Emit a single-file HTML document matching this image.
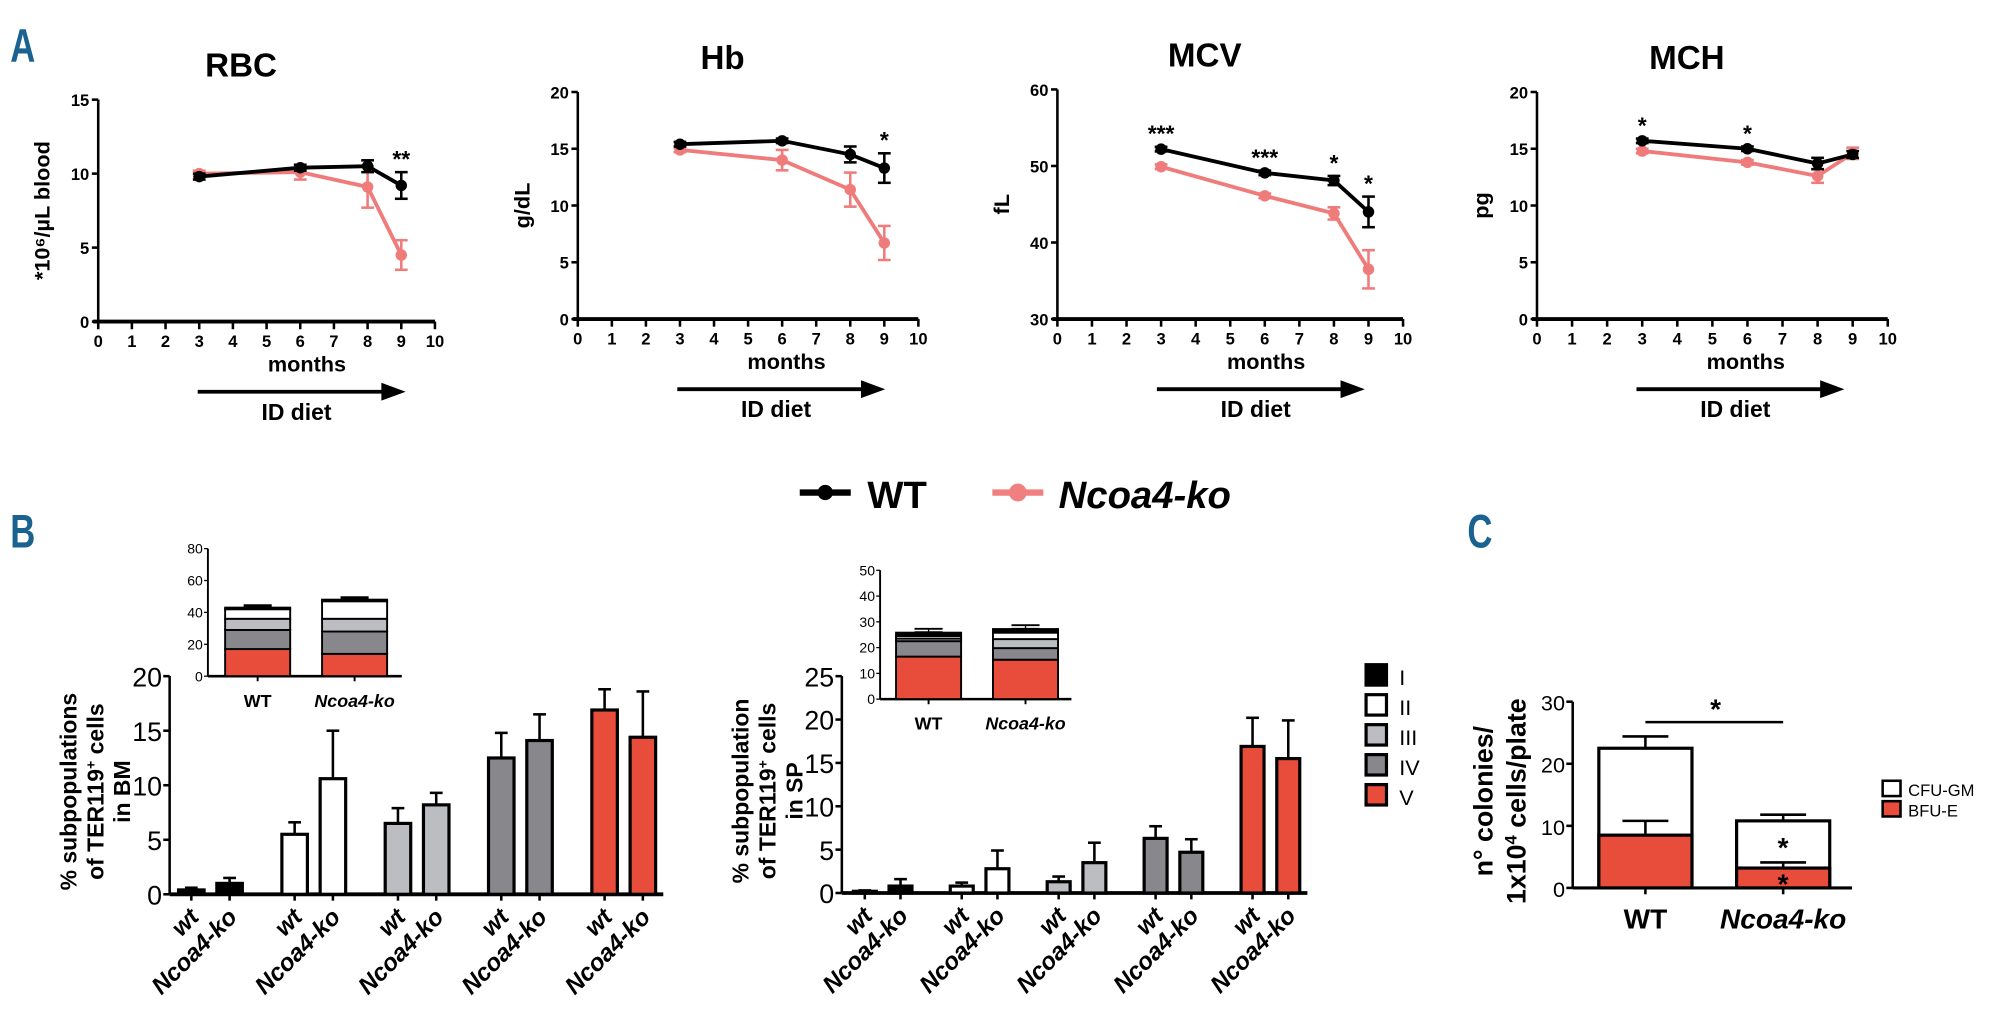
<!DOCTYPE html>
<html><head><meta charset="utf-8">
<style>
html,body{margin:0;padding:0;background:#fff;}
svg{display:block;font-family:"Liberation Sans",sans-serif;}
.pl{font-family:"Liberation Sans",sans-serif;font-weight:bold;fill:#1a6391;font-size:34px;}
</style></head>
<body>
<svg id="fig" width="2000" height="1022" viewBox="0 0 1568 801">
<text class="pl" x="8" y="48" transform="scale(0.8,1.1) translate(2,-4)">A</text>
<text class="pl" x="10" y="390" transform="scale(0.8,1.1)">B</text>
<text class="pl" x="1438" y="390" transform="scale(0.8,1.1)">C</text>
<g id="legend">
<line x1="627" y1="386" x2="667" y2="386" stroke="#000" stroke-width="5"/>
<circle cx="647" cy="386" r="6" fill="#000"/>
<text x="680" y="398" font-size="30" font-weight="bold">WT</text>
<line x1="778" y1="386" x2="818" y2="386" stroke="#f08080" stroke-width="5"/>
<circle cx="798" cy="386" r="7" fill="#f08080"/>
<text x="830" y="398" font-size="30" font-weight="bold" font-style="italic">Ncoa4-ko</text>
</g>
</svg>
<script>
// ---- Panel A data ----
const months = [3, 6, 8, 9];
const xTicksA = [0,1,2,3,4,5,6,7,8,9,10];
const rbcWT = [9.8, 10.4, 10.5, 9.2];
const rbcWTerr = [0.2, 0.2, 0.4, 0.9];
const rbcKO = [10.0, 10.1, 9.1, 4.5];
const rbcKOerr = [0.2, 0.5, 1.4, 1.0];
const hbWT = [15.4, 15.7, 14.5, 13.3];
const hbWTerr = [0.2, 0.2, 0.7, 1.3];
const hbKO = [14.9, 14.0, 11.4, 6.7];
const hbKOerr = [0.2, 0.9, 1.5, 1.5];
const mcvWT = [52.2, 49.1, 48.1, 44.0];
const mcvWTerr = [0.3, 0.3, 0.6, 2.0];
const mcvKO = [49.9, 46.1, 43.8, 36.5];
const mcvKOerr = [0.3, 0.3, 0.8, 2.5];
const mchWT = [15.7, 15.0, 13.7, 14.5];
const mchWTerr = [0.2, 0.2, 0.5, 0.3];
const mchKO = [14.8, 13.8, 12.6, 14.6];
const mchKOerr = [0.2, 0.2, 0.6, 0.5];
const rbcStars = ["", "", "", "**"];
const hbStars = ["", "", "", "*"];
const mcvStars = ["***", "***", "*", "*"];
const mchStars = ["*", "*", "", ""];
// ---- Panel B data ----
const stages = ["I","II","III","IV","V"];
const bmWT = [0.4, 5.5, 6.5, 12.5, 16.9];
const bmWTerr = [0.2, 1.1, 1.4, 2.3, 1.9];
const bmKO = [1.0, 10.6, 8.2, 14.1, 14.4];
const bmKOerr = [0.5, 4.4, 1.1, 2.4, 4.2];
const spWT = [0.2, 0.8, 1.3, 6.3, 16.9];
const spWTerr = [0.1, 0.4, 0.6, 1.4, 3.3];
const spKO = [0.8, 2.8, 3.5, 4.7, 15.5];
const spKOerr = [0.8, 2.1, 2.3, 1.5, 4.4];
// inset stacks, bottom to top: V, IV, III, II, I
const bmInsetWT = [17, 12, 7, 6, 1];
const bmInsetKO = [14, 14, 8, 11, 1];
const spInsetWT = [16.5, 6, 1, 1, 1.3];
const spInsetKO = [15.3, 4.5, 3.5, 2.5, 1.4];
const bmTicks = [0,5,10,15,20];
const spTicks = [0,5,10,15,20,25];
const bmInsetTicks = [0,20,40,60,80];
const spInsetTicks = [0,10,20,30,40,50];
// ---- Panel C data ----
const cGroups = ["WT","Ncoa4-ko"];
const bfuE = [8.5, 3.2];
const bfuEerr = [2.3, 0.9];
const cfuTotal = [22.5, 10.8];
const cfuTotalErr = [1.9, 1.0];
const cTicks = [0,10,20,30];

const NS = "http://www.w3.org/2000/svg";
const svg = document.getElementById("fig");
function mk(tag, attrs, parent, txt){
  const e = document.createElementNS(NS, tag);
  for (const k in attrs) e.setAttribute(k, attrs[k]);
  if (txt !== undefined) e.textContent = txt;
  (parent || svg).appendChild(e);
  return e;
}
const stageColor = ["#000000","#ffffff","#bcbdc1","#87878c","#e84c3a"];

function lineChart(o){
  const g = mk("g", {});
  
  
  const sx = v => o.x0 + (v/10)*(o.x1-o.x0);
  const sy = v => o.yb - (v-o.ymin)/(o.ymax-o.ymin)*(o.yb-o.yt);
  const t = mk("text", {x:(o.x0+o.x1)/2-20, y:o.yt-18, "font-size":26, "font-weight":"bold", "text-anchor":"middle"}, g, o.title);
  
  
  mk("line", {x1:o.x0, y1:o.yt, x2:o.x0, y2:o.yb, stroke:"#000", "stroke-width":2}, g);
  mk("line", {x1:o.x0-4, y1:o.yb, x2:o.x1, y2:o.yb, stroke:"#000", "stroke-width":3}, g);
  o.yticks.forEach(v=>{
    mk("line",{x1:o.x0-5,y1:sy(v),x2:o.x0,y2:sy(v),stroke:"#000","stroke-width":2},g);
    const l = mk("text",{x:o.x0-7,y:sy(v)+5,"font-size":13,"font-weight":"bold","text-anchor":"end"},g,String(v));
    
    
  });
  xTicksA.forEach(v=>{
    mk("line",{x1:sx(v),y1:o.yb,x2:sx(v),y2:o.yb+6,stroke:"#000","stroke-width":2},g);
    const l = mk("text",{x:sx(v),y:o.yb+20,"font-size":13,"font-weight":"bold","text-anchor":"middle"},g,String(v));
    
    
  });
  const yl = mk("text",{x:0,y:0,"font-size":17,"font-weight":"bold","text-anchor":"middle",transform:`translate(${o.x0-38},${(o.yt+o.yb)/2}) rotate(-90)`},g,o.ylabel);
  
  
  const ml = mk("text",{x:o.x0+133,y:o.yb+39,"font-size":17,"font-weight":"bold"},g,"months");
  
  
  const ay = o.yb+55;
  mk("line",{x1:o.x0+78,y1:ay,x2:o.x0+225,y2:ay,stroke:"#000","stroke-width":3},g);
  const ah = mk("polygon",{points:`${o.x0+241},${ay} ${o.x0+222},${ay-7} ${o.x0+222},${ay+7}`,fill:"#000"},g);
  
  
  const dl = mk("text",{x:o.x0+128,y:ay+22,"font-size":18,"font-weight":"bold"},g,"ID diet");
  
  
  [[o.ko,o.koErr,"#ef7b7b"],[o.wt,o.wtErr,"#000"]].forEach(([vals,errs,col])=>{
    const pts = months.map((m,i)=>`${sx(m)},${sy(vals[i])}`).join(" ");
    const pl = mk("polyline",{points:pts,fill:"none",stroke:col,"stroke-width":3},g);
    
    
    months.forEach((m,i)=>{
      const x=sx(m), a=sy(vals[i]-errs[i]), b=sy(vals[i]+errs[i]);
      mk("line",{x1:x,y1:a,x2:x,y2:b,stroke:col,"stroke-width":2},g);
      mk("line",{x1:x-5,y1:a,x2:x+5,y2:a,stroke:col,"stroke-width":2},g);
      mk("line",{x1:x-5,y1:b,x2:x+5,y2:b,stroke:col,"stroke-width":2},g);
      const c = mk("circle",{cx:x,cy:sy(vals[i]),r:4.5,fill:col},g);
      
      
    });
  });
  o.stars.forEach((s,i)=>{
    if(!s) return;
    const top = Math.min(sy(o.wt[i]+o.wtErr[i]), sy(o.wt[i]));
    const st = mk("text",{x:sx(months[i]),y:top-4,"font-size":18,"font-weight":"bold","text-anchor":"middle"},g,s);
    
    
  });
}
lineChart({name:"rbc-chart",title:"RBC",x0:77,x1:341,yt:78,yb:252,ymin:0,ymax:15,yticks:[0,5,10,15],ylabel:"*10⁶/µL blood",wt:rbcWT,wtErr:rbcWTerr,ko:rbcKO,koErr:rbcKOerr,stars:rbcStars});
lineChart({name:"hb-chart",title:"Hb",x0:453,x1:720,yt:72,yb:250,ymin:0,ymax:20,yticks:[0,5,10,15,20],ylabel:"g/dL",wt:hbWT,wtErr:hbWTerr,ko:hbKO,koErr:hbKOerr,stars:hbStars});
lineChart({name:"mcv-chart",title:"MCV",x0:829,x1:1100,yt:70,yb:250,ymin:30,ymax:60,yticks:[30,40,50,60],ylabel:"fL",wt:mcvWT,wtErr:mcvWTerr,ko:mcvKO,koErr:mcvKOerr,stars:mcvStars});
lineChart({name:"mch-chart",title:"MCH",x0:1205,x1:1480,yt:72,yb:250,ymin:0,ymax:20,yticks:[0,5,10,15,20],ylabel:"pg",wt:mchWT,wtErr:mchWTerr,ko:mchKO,koErr:mchKOerr,stars:mchStars});

function errBar(g,x,yv,ye,half){
  mk("line",{x1:x,y1:yv,x2:x,y2:ye,stroke:"#000","stroke-width":2},g);
  mk("line",{x1:x-half,y1:ye,x2:x+half,y2:ye,stroke:"#000","stroke-width":2},g);
}
function barChart(o){
  const g = mk("g",{});
  
  
  const sy = v => o.yb - v/o.ymax*(o.yb-o.yt);
  mk("line",{x1:o.x0,y1:o.yt,x2:o.x0,y2:o.yb,stroke:"#000","stroke-width":2},g);
  mk("line",{x1:o.x0,y1:o.yb,x2:o.x1,y2:o.yb,stroke:"#000","stroke-width":3},g);
  o.ticks.forEach(v=>{
    mk("line",{x1:o.x0-5,y1:sy(v),x2:o.x0,y2:sy(v),stroke:"#000","stroke-width":2},g);
    const l = mk("text",{x:o.x0-6,y:sy(v)+8,"font-size":21,"text-anchor":"end"},g,String(v));
    
    
  });
  const yl = mk("text",{x:0,y:0,"font-size":18,"font-weight":"bold","text-anchor":"middle",transform:`translate(${o.x0-73},${(o.yt+o.yb)/2+5}) rotate(-90)`},g);
  o.ylabel.forEach((ln,i)=>{ const ts=mk("tspan",{x:0,dy:i?21:0},yl); ts.innerHTML=ln; });
  
  
  stages.forEach((s,i)=>{
    [[o.wt,o.wtE,"wt",0],[o.ko,o.koE,"Ncoa4-ko",1]].forEach(([vals,errs,lab,k])=>{
      const cx = o.x0 + o.off + i*o.step + k*o.gap;
      errBar(g,cx,sy(vals[i]),sy(vals[i]+errs[i]),5);
      const r = mk("rect",{x:cx-o.bw/2,y:sy(vals[i]),width:o.bw,height:o.yb-sy(vals[i]),fill:stageColor[i],stroke:"#000","stroke-width":2.5},g);
      
      
      mk("line",{x1:cx,y1:o.yb,x2:cx,y2:o.yb+5,stroke:"#000","stroke-width":2},g);
      const tl = mk("text",{x:0,y:0,"font-size":19,"font-weight":"bold","font-style":"italic","text-anchor":"end",transform:`translate(${cx+7},${o.yb+19}) rotate(-45)`},g,lab);
      
      
    });
  });
}
barChart({name:"bm-bar-chart",x0:133,x1:520,yt:530,yb:701,ymax:20,ticks:bmTicks,wt:bmWT,wtE:bmWTerr,ko:bmKO,koE:bmKOerr,bw:20,off:17,step:81,gap:30,ylabel:["% subpopulations","of TER119<tspan baseline-shift='super' font-size='11'>+</tspan> cells","in BM"]});
barChart({name:"sp-bar-chart",x0:660,x1:1025,yt:530,yb:700,ymax:25,ticks:spTicks,wt:spWT,wtE:spWTerr,ko:spKO,koE:spKOerr,bw:18,off:18,step:76,gap:28,ylabel:["% subpopulation","of TER119<tspan baseline-shift='super' font-size='11'>+</tspan> cells","in SP"]});

function inset(o){
  const g = mk("g",{});
  
  
  const sy = v => o.yb - v/o.ymax*(o.yb-o.yt);
  mk("line",{x1:o.x0,y1:o.yt,x2:o.x0,y2:o.yb,stroke:"#000","stroke-width":1.5},g);
  mk("line",{x1:o.x0,y1:o.yb,x2:o.x1,y2:o.yb,stroke:"#000","stroke-width":2},g);
  o.ticks.forEach(v=>{
    mk("line",{x1:o.x0-3,y1:sy(v),x2:o.x0,y2:sy(v),stroke:"#000","stroke-width":1},g);
    const l = mk("text",{x:o.x0-4,y:sy(v)+4,"font-size":11,"text-anchor":"end"},g,String(v));
    
    
  });
  [[o.wt,"WT",o.c1,""],[o.ko,"Ncoa4-ko",o.c2,"italic"]].forEach(([vals,lab,cx,fs])=>{
    let cum=0;
    vals.forEach((v,i)=>{
      const top = cum+v;
      const si = 4-i;
      const r = mk("rect",{x:cx-o.bw/2,y:sy(top),width:o.bw,height:sy(cum)-sy(top),fill:stageColor[si],stroke:"#000","stroke-width":1.5},g);
      
      
      mk("line",{x1:cx,y1:sy(top),x2:cx,y2:sy(top+1.5),stroke:"#000","stroke-width":1},g);
      mk("line",{x1:cx-11,y1:sy(top+1.5),x2:cx+11,y2:sy(top+1.5),stroke:"#000","stroke-width":1.5},g);
      cum=top;
    });
    mk("line",{x1:cx,y1:o.yb,x2:cx,y2:o.yb+4,stroke:"#000","stroke-width":1.5},g);
    const t = mk("text",{x:cx,y:o.yb+24,"font-size":14,"font-weight":"bold","font-style":fs,"text-anchor":"middle"},g,lab);
    
    
  });
}
inset({name:"bm-inset-chart",x0:163,x1:315,yt:430,yb:530,ymax:80,ticks:bmInsetTicks,wt:bmInsetWT,ko:bmInsetKO,c1:202,c2:278,bw:51});
inset({name:"sp-inset-chart",x0:690,x1:840,yt:447,yb:548,ymax:50,ticks:spInsetTicks,wt:spInsetWT,ko:spInsetKO,c1:728,c2:804,bw:51});

stages.forEach((s,i)=>{
  const y = 521 + i*23.5;
  const r = mk("rect",{x:1071,y:y,width:16,height:16,fill:stageColor[i],stroke:"#000","stroke-width":2.5});
  
  
  const t = mk("text",{x:1097,y:y+16,"font-size":17},undefined,s);
  
  
});

(function(){
  const g = mk("g",{});
  
  
  const x0=1233, x1=1452, yt=550, yb=696, ymax=30;
  const sy = v => yb - v/ymax*(yb-yt);
  mk("line",{x1:x0,y1:yt,x2:x0,y2:yb,stroke:"#000","stroke-width":2},g);
  mk("line",{x1:x0,y1:yb,x2:x1,y2:yb,stroke:"#000","stroke-width":2.5},g);
  cTicks.forEach(v=>{
    mk("line",{x1:x0-5,y1:sy(v),x2:x0,y2:sy(v),stroke:"#000","stroke-width":2},g);
    const l = mk("text",{x:x0-6,y:sy(v)+7,"font-size":17,"text-anchor":"end"},g,String(v));
    
    
  });
  const yl = mk("text",{x:0,y:0,"font-size":21,"font-weight":"bold","text-anchor":"middle",transform:`translate(${x0-63},${(yt+yb)/2+5}) rotate(-90)`},g);
  yl.innerHTML = "<tspan x='0'>n° colonies/</tspan><tspan x='0' dy='26'>1x10<tspan baseline-shift='super' font-size='13'>4</tspan> cells/plate</tspan>";
  
  
  const centers=[1290,1398], bw=73;
  cGroups.forEach((lab,i)=>{
    const cx = centers[i];
    errBar(g,cx,sy(cfuTotal[i]),sy(cfuTotal[i]+cfuTotalErr[i]),18);
    const r1 = mk("rect",{x:cx-bw/2,y:sy(cfuTotal[i]),width:bw,height:yb-sy(cfuTotal[i]),fill:"#fff",stroke:"#000","stroke-width":2.5},g);
    
    
    errBar(g,cx,sy(bfuE[i]),sy(bfuE[i]+bfuEerr[i]),18);
    const r2 = mk("rect",{x:cx-bw/2,y:sy(bfuE[i]),width:bw,height:yb-sy(bfuE[i]),fill:"#e84c3a",stroke:"#000","stroke-width":2.5},g);
    
    
    mk("line",{x1:cx,y1:yb,x2:cx,y2:yb+5,stroke:"#000","stroke-width":2},g);
    const t = mk("text",{x:cx,y:yb+32,"font-size":22,"font-weight":"bold","font-style":i?"italic":"normal","text-anchor":"middle"},g,lab);
    
    
  });
  mk("line",{x1:1290,y1:566,x2:1398,y2:566,stroke:"#000","stroke-width":2},g);
  [[1345,563],[1398,sy((bfuE[1]+cfuTotal[1])/2)+10],[1398,sy(bfuE[1]/2)+12]].forEach(([x,y])=>{
    const s = mk("text",{x:x,y:y,"font-size":22,"font-weight":"bold","text-anchor":"middle"},g,"*");
    
    
  });
  [["CFU-GM","#fff"],["BFU-E","#e84c3a"]].forEach(([l,c],i)=>{
    const y = 612 + i*16;
    const r = mk("rect",{x:1476,y:y,width:14,height:12,fill:c,stroke:"#000","stroke-width":2},g);
    
    
    const t = mk("text",{x:1496,y:y+12,"font-size":13},g,l);
    
    
  });
})();
</script>
</body></html>
